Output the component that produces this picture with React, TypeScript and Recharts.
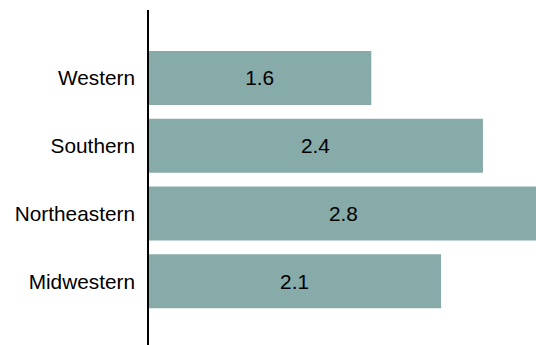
import React from "react";
import { BarChart, Bar, XAxis, YAxis, LabelList } from "recharts";

const regions = ["Western", "Southern", "Northeastern", "Midwestern"];
const values = [1.6, 2.4, 2.8, 2.1];

const data = regions.map((name, i) => ({ name, value: values[i] }));

export default function App() {
  return (
    <div style={{ position: "absolute", left: 0, top: 0, background: "#fff" }}>
      <BarChart
        width={536}
        height={345}
        data={data}
        layout="vertical"
        margin={{ top: 10, right: 0, bottom: 0, left: 0 }}
        barCategoryGap={14}
      >
        {/* the longest bar runs slightly past the right edge */}
        <XAxis type="number" domain={[0, 2.78]} allowDataOverflow hide />
        <YAxis
          type="category"
          dataKey="name"
          width={148}
          tickLine={false}
          tickMargin={7}
          axisLine={{ stroke: "#000", strokeWidth: 2 }}
          padding={{ top: 34, bottom: 30 }}
          tick={{ fill: "#000", fontSize: 20.8, fontFamily: "Liberation Sans, Arial, sans-serif" }}
        />
        <Bar dataKey="value" fill="#87ABA9" barSize={54} isAnimationActive={false}>
          <LabelList
            dataKey="value"
            position="center"
            fill="#000"
            fontSize={20.8}
            fontFamily="Liberation Sans, Arial, sans-serif"
            formatter={(v: number) => v.toFixed(1)}
          />
        </Bar>
      </BarChart>
    </div>
  );
}
